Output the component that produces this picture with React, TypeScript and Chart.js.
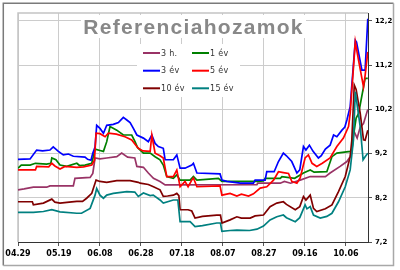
import React, { useEffect, useRef } from "react";
import { Chart, registerables } from "chart.js";

Chart.register(...registerables);

// x values are days counted from 04.29
const xTickLabels = ["04.29", "05.19", "06.08", "06.28", "07.18", "08.07", "08.27", "09.16", "10.06"];
const xTickStep = 20;
const xMaxDay = 170.8;
const yTicks = [7.2, 8.2, 9.2, 10.2, 11.2, 12.2];
const yMax = 12.38;

const seriesNames = ["3 h.", "1 év", "3 év", "5 év", "10 év", "15 év"];
const seriesColors = ["#993366", "#008000", "#0000ff", "#ff0000", "#800000", "#008080"];

const h3Days = [0, 3, 7.5, 14, 15.6, 27, 27.8, 35.2, 36.5, 37.6, 40, 43.3, 48.2, 50.6, 53.5, 57, 58, 61.2, 63.6, 66.1, 69.3, 71.8, 116.6, 117, 128, 130, 133, 137.7, 142.6, 150, 152.3, 157.2, 160.5, 162.1, 162.9, 163.7, 165.5, 167, 168.6, 170.7];
const h3Vals = [8.38, 8.4, 8.44, 8.44, 8.47, 8.47, 8.64, 8.66, 8.75, 9.1, 9.08, 9.1, 9.13, 9.21, 9.12, 9.1, 8.91, 8.89, 8.76, 8.64, 8.57, 8.49, 8.5, 8.53, 8.53, 8.57, 8.53, 8.6, 8.68, 8.68, 8.76, 8.91, 9.02, 9.13, 9.21, 9.73, 9.55, 9.8, 9.88, 10.2];

const e1Days = [0, 1.6, 5.9, 8.5, 14, 16, 16.5, 18.5, 20.5, 23.8, 28.7, 30, 32.7, 36, 37.6, 40, 41.7, 43.3, 44.9, 48.2, 51.4, 55.5, 57.1, 58.3, 61.2, 64.5, 66.9, 69.3, 70.9, 72.6, 75.8, 77.5, 79.1, 84, 85.6, 87.3, 97.8, 99.5, 116.6, 119.8, 120.6, 128, 128.8, 135, 139.3, 142.6, 144.5, 150.7, 153.2, 155.6, 162.1, 162.9, 163.7, 165, 166.2, 169.4, 170.7];
const e1Vals = [8.87, 8.94, 8.94, 8.98, 8.96, 8.98, 9.1, 9.06, 8.94, 8.91, 8.98, 8.93, 8.94, 8.98, 9.3, 9.27, 9.25, 9.47, 9.81, 9.73, 9.62, 9.62, 9.47, 9.34, 9.21, 9.21, 9.13, 9.06, 8.94, 8.68, 8.64, 8.72, 8.6, 8.6, 8.68, 8.6, 8.64, 8.57, 8.57, 8.58, 8.64, 8.64, 8.68, 8.64, 8.76, 8.83, 8.78, 8.79, 9.13, 9.21, 9.25, 9.28, 9.6, 10.0, 10.11, 10.9, 10.9];

const e3Days = [0, 5.9, 9.1, 12, 15.6, 17.2, 19.7, 22.1, 24.6, 27, 32.7, 34, 35.6, 36.5, 37.6, 38.4, 40, 41.7, 43.3, 46.5, 49, 51.4, 53.1, 54.7, 56.3, 58, 61.2, 63.6, 65.3, 66.9, 68.5, 70.9, 71.8, 75.8, 77.5, 79.1, 81.5, 84.8, 85.6, 87.3, 98.6, 99.5, 101.9, 108.4, 114.9, 115.7, 120.6, 121.4, 125, 127.1, 129.5, 131, 133.6, 136.1, 137.5, 139.3, 140.5, 142.2, 144, 146.6, 148, 150, 152.3, 154, 155.6, 158.1, 159.5, 160.5, 162.1, 164.6, 165.2, 167.8, 169.4, 170.7];
const e3Vals = [9.07, 9.08, 9.28, 9.26, 9.28, 9.35, 9.25, 9.17, 9.19, 9.14, 9.12, 9.07, 9.05, 9.21, 9.35, 9.84, 9.77, 9.66, 9.84, 9.86, 9.9, 10.02, 9.96, 9.9, 9.77, 9.62, 9.55, 9.47, 9.62, 9.43, 9.36, 9.32, 9.06, 9.06, 9.17, 8.87, 8.87, 8.94, 8.98, 8.76, 8.74, 8.6, 8.57, 8.53, 8.53, 8.6, 8.6, 8.79, 8.79, 9.02, 9.21, 9.15, 9.02, 8.76, 8.83, 9.36, 9.28, 9.39, 9.25, 9.1, 9.15, 9.3, 9.39, 9.62, 9.58, 9.73, 9.8, 9.96, 10.26, 11.76, 11.72, 11.09, 11.09, 12.25];

const e5Days = [0, 8.5, 9.1, 15, 16.5, 18, 20.5, 22.9, 28.7, 32, 36, 37.3, 38.1, 40, 42.5, 44.1, 48, 52.2, 55.5, 58.7, 61, 64.5, 65.3, 66.9, 69.3, 70.9, 72.6, 75.8, 77.5, 79.1, 81.5, 83, 84.8, 85.6, 87.3, 98.6, 99.5, 103.5, 106.8, 109, 112.5, 114.9, 118.2, 121.4, 124.7, 127.1, 129.5, 132, 133.6, 136.1, 137.7, 140.1, 141.7, 143.5, 145.8, 148.5, 152.3, 155.6, 158.8, 161.3, 162.1, 164.6, 166.2, 168.6, 169.4, 170.7];
const e5Vals = [8.83, 8.83, 8.91, 8.9, 8.98, 8.92, 8.85, 8.91, 8.89, 8.9, 8.94, 9.05, 9.66, 9.65, 9.58, 9.66, 9.64, 9.58, 9.51, 9.32, 9.26, 9.25, 9.62, 9.21, 9.15, 9.1, 8.68, 8.68, 8.83, 8.45, 8.57, 8.45, 8.6, 8.65, 8.45, 8.47, 8.26, 8.3, 8.24, 8.28, 8.24, 8.29, 8.42, 8.45, 8.6, 8.79, 8.77, 8.75, 8.57, 8.53, 8.65, 9.1, 9.17, 8.98, 8.91, 8.98, 9.1, 9.36, 9.55, 9.81, 10.11, 11.73, 11.31, 10.71, 10.97, 11.5];

const e10Days = [0, 7, 7.5, 12.4, 16.5, 18, 20.5, 25, 28.7, 31.5, 33.5, 36, 38.1, 40, 43.3, 48.2, 54.7, 58.7, 59.6, 63.6, 66.1, 69.3, 70.9, 73, 75.8, 77.5, 78.5, 79.1, 83, 84.8, 86.4, 90, 97, 98.8, 99.5, 103.5, 106.8, 109, 113.3, 115.7, 119.8, 123, 126.3, 129.5, 131, 135.3, 137.5, 139.3, 140.5, 142.6, 144.2, 145.8, 150, 153.2, 156.4, 159.7, 162.1, 162.9, 164.1, 165, 167, 168.6, 169.4, 170.7];
const e10Vals = [8.11, 8.11, 8.04, 8.08, 8.17, 8.1, 8.08, 8.1, 8.12, 8.12, 8.19, 8.3, 8.6, 8.57, 8.55, 8.59, 8.59, 8.55, 8.53, 8.5, 8.45, 8.38, 8.23, 8.24, 8.26, 8.3, 8.25, 7.93, 7.93, 7.9, 7.74, 7.78, 7.81, 7.81, 7.63, 7.7, 7.77, 7.74, 7.74, 7.79, 7.81, 8.0, 8.08, 8.11, 8.05, 7.93, 8.0, 8.23, 8.15, 8.26, 7.96, 7.89, 7.95, 8.04, 8.34, 8.68, 9.13, 9.5, 10.75, 10.65, 10.11, 9.51, 9.5, 9.73];

const e15Days = [0, 7.5, 12.4, 16.5, 20.5, 28.7, 31, 35.2, 37.6, 38.4, 40, 41.7, 43.3, 46.5, 53.1, 57, 58.7, 61.2, 64.5, 66, 69.3, 70.9, 75.8, 78, 79.1, 84, 86.4, 90, 97, 98.8, 99.5, 103.5, 106.8, 113, 116.6, 119.8, 123, 126.3, 129.5, 131, 135.3, 137.5, 140.1, 141, 142.6, 144.2, 147.5, 150.7, 153.2, 156.4, 159.7, 162.1, 163.7, 164.6, 167, 168.4, 169.4, 170.7];
const e15Vals = [7.87, 7.87, 7.89, 7.93, 7.88, 7.85, 7.85, 7.96, 8.26, 8.41, 8.26, 8.19, 8.26, 8.3, 8.34, 8.33, 8.23, 8.31, 8.25, 8.26, 8.15, 8.08, 8.15, 8.15, 7.66, 7.66, 7.55, 7.57, 7.63, 7.63, 7.44, 7.46, 7.47, 7.46, 7.49, 7.56, 7.7, 7.77, 7.81, 7.75, 7.66, 7.75, 8.04, 7.95, 8.0, 7.81, 7.74, 7.78, 7.85, 8.11, 8.45, 8.83, 9.51, 10.6, 9.81, 9.06, 9.13, 9.21];

const seriesDays = [h3Days, e1Days, e3Days, e5Days, e10Days, e15Days];
const seriesVals = [h3Vals, e1Vals, e3Vals, e5Vals, e10Vals, e15Vals];

const titleText = "Referenciahozamok";

const decorPlugin = {
  id: "decor",
  beforeDraw(chart: any) {
    const ctx = chart.ctx;
    ctx.save();
    ctx.fillStyle = "#ffffff";
    ctx.fillRect(0, 0, chart.width, chart.height);
    ctx.lineWidth = 1.5;
    ctx.strokeStyle = "#7a7a7a";
    ctx.beginPath();
    ctx.moveTo(3.3, 265.5);
    ctx.lineTo(3.3, 3.3);
    ctx.lineTo(393.5, 3.3);
    ctx.stroke();
    ctx.strokeStyle = "#a8a8a8";
    ctx.beginPath();
    ctx.moveTo(393.5, 3.3);
    ctx.lineTo(393.5, 265.5);
    ctx.lineTo(3.3, 265.5);
    ctx.stroke();
    ctx.restore();
  },
  beforeDatasetsDraw(chart: any) {
    const ctx = chart.ctx;
    const a = chart.chartArea;
    ctx.save();
    // plot frame (top & left)
    ctx.strokeStyle = "#c4c4c4";
    ctx.lineWidth = 1.5;
    ctx.beginPath();
    ctx.moveTo(a.left, a.bottom);
    ctx.lineTo(a.left, a.top);
    ctx.lineTo(a.right, a.top);
    ctx.stroke();
    // white boxes behind title and legend
    ctx.fillStyle = "#ffffff";
    ctx.fillRect(81, 15, 225, 23);
    ctx.fillRect(137, 44, 103, 53);
    // title
    ctx.fillStyle = "#888888";
    ctx.font = "bold 21px 'Liberation Sans', Arial, sans-serif";
    try { (ctx as any).letterSpacing = "1.3px"; } catch (e) {}
    ctx.textAlign = "center";
    ctx.textBaseline = "alphabetic";
    ctx.fillText(titleText, 193.5, 33.5);
    try { (ctx as any).letterSpacing = "0.3px"; } catch (e) {}
    // legend
    ctx.font = "8px 'DejaVu Sans', sans-serif";
    ctx.textAlign = "left";
    ctx.textBaseline = "middle";
    const colX = [143, 192];
    const rowY = [53, 70.7, 88.3];
    seriesNames.forEach((name, i) => {
      const cx = colX[i % 2];
      const cy = rowY[Math.floor(i / 2)];
      ctx.strokeStyle = seriesColors[i];
      ctx.lineWidth = 2;
      ctx.beginPath();
      ctx.moveTo(cx, cy);
      ctx.lineTo(cx + 17, cy);
      ctx.stroke();
      ctx.fillStyle = "#333333";
      ctx.fillText(name, cx + 18, cy + 0.5);
    });
    ctx.restore();
  },
};

export default function App() {
  const ref = useRef<HTMLCanvasElement | null>(null);

  useEffect(() => {
    document.body.style.margin = "0";
    if (!ref.current) return;
    const datasets = seriesNames.map((name, i) => ({
      label: name,
      data: seriesDays[i].map((d, j) => ({ x: d, y: seriesVals[i][j] })),
      borderColor: seriesColors[i],
      backgroundColor: seriesColors[i],
      borderWidth: 1.7,
      pointRadius: 0,
      tension: 0,
      fill: false,
      order: seriesNames.length - 1 - i,
    }));
    const xFont = { family: "'DejaVu Sans', sans-serif", size: 8, weight: "bold" as const };
    const yFont = { family: "'DejaVu Sans', sans-serif", size: 7, weight: "bold" as const };
    const chart = new Chart(ref.current, {
      type: "line",
      data: { datasets },
      options: {
        animation: false,
        responsive: false,
        maintainAspectRatio: false,
        layout: { padding: { left: 18, top: 13, right: 0, bottom: 0 } },
        plugins: { legend: { display: false }, tooltip: { enabled: false }, title: { display: false } },
        scales: {
          x: {
            type: "linear",
            min: 0,
            max: xMaxDay,
            afterBuildTicks: (s: any) => {
              s.ticks = xTickLabels.map((_, i) => ({ value: i * xTickStep }));
            },
            afterFit: (s: any) => {
              s.height = 28;
            },
            ticks: {
              autoSkip: false,
              maxRotation: 0,
              padding: 3,
              color: "#000000",
              font: xFont,
              callback: (v: any) => xTickLabels[Math.round(Number(v) / xTickStep)] ?? "",
            },
            grid: { color: "#cccccc", lineWidth: 1, tickLength: 4, tickColor: "#555555" },
            border: { display: true, color: "#333333", width: 1 },
          },
          y: {
            type: "linear",
            position: "right",
            min: yTicks[0],
            max: yMax,
            afterBuildTicks: (s: any) => {
              s.ticks = yTicks.map((v) => ({ value: v }));
            },
            afterFit: (s: any) => {
              s.width = 32;
            },
            ticks: {
              padding: 3,
              color: "#000000",
              font: yFont,
              callback: (v: any) => Number(v).toFixed(1).replace(".", ","),
            },
            grid: { color: "#cccccc", lineWidth: 1, tickLength: 4, tickColor: "#555555" },
            border: { display: true, color: "#333333", width: 1 },
          },
        },
      },
      plugins: [decorPlugin],
    });
    return () => chart.destroy();
  }, []);

  return (
    <div style={{ width: 400, height: 270 }}>
      <canvas ref={ref} width={400} height={270} style={{ width: 400, height: 270, display: "block" }} />
    </div>
  );
}
